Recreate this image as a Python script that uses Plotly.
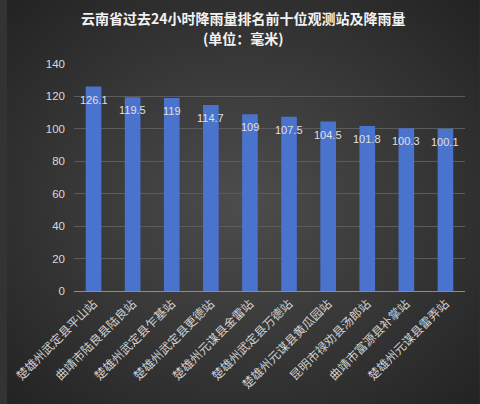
import plotly.graph_objects as go
import urllib.parse

stations = ["楚雄州武定县平山站", "曲靖市陆良县陆良站", "楚雄州武定县乍基站", "楚雄州武定县更德站",
            "楚雄州元谋县金雷站", "楚雄州武定县万德站", "楚雄州元谋县黄瓜园站", "昆明市禄劝县汤郎站",
            "曲靖市富源县补掌站", "楚雄州元谋县雷弄站"]
rainfall = [126.1, 119.5, 119, 114.7, 109, 107.5, 104.5, 101.8, 100.3, 100.1]
label_text = ["126.1", "119.5", "119", "114.7", "109", "107.5", "104.5", "101.8", "100.3", "100.1"]
y_ticks = [0, 20, 40, 60, 80, 100, 120, 140]
title_lines = ["云南省过去24小时降雨量排名前十位观测站及降雨量", "(单位：毫米)"]

W, H = 480, 404
ml, mr, mt, mb = 68, 15, 64, 113
pw, ph = W - ml - mr, H - mt - mb

svg = ('<svg xmlns="http://www.w3.org/2000/svg" width="480" height="404">'
       '<defs><radialGradient id="g" cx="50%" cy="50%" r="70%">'
       '<stop offset="0%" stop-color="#4d4d4d"/><stop offset="100%" stop-color="#232323"/>'
       '</radialGradient></defs><rect width="480" height="404" fill="url(#g)"/></svg>')
bg_uri = "data:image/svg+xml;charset=utf-8," + urllib.parse.quote(svg)

font_family = "Noto Sans CJK SC, Noto Sans, sans-serif"
num_font = "Liberation Sans, Arial, sans-serif"

fig = go.Figure()
fig.add_trace(go.Bar(
    x=stations, y=rainfall,
    marker=dict(color="#4a73cd", line=dict(width=0)),
    width=0.4,
    hoverinfo="skip",
))

for s, v, t in zip(stations, rainfall, label_text):
    fig.add_annotation(x=s, y=v, text=t, showarrow=False, yanchor="top", yshift=-5,
                       font=dict(family=num_font, size=11, color="#e0e0e0"))

for py, line in zip([18, 38], title_lines):
    fig.add_annotation(xref="paper", yref="paper", x=(240 - ml) / pw, y=1 + (mt - py) / ph,
                       xanchor="center", yanchor="middle", text=line, showarrow=False,
                       font=dict(family=font_family, size=14, color="#f2f2f2", weight="bold"))

fig.update_layout(
    width=W, height=H,
    margin=dict(l=ml, r=mr, t=mt, b=mb),
    paper_bgcolor="#333333",
    plot_bgcolor="rgba(0,0,0,0)",
    showlegend=False,
    images=[dict(source=bg_uri, xref="paper", yref="paper",
                 x=-ml / pw, y=1 + mt / ph, sizex=W / pw, sizey=H / ph,
                 xanchor="left", yanchor="top", sizing="stretch", layer="below")],
    xaxis=dict(tickangle=-45, tickfont=dict(family=font_family, size=12, color="#d0d0d0"),
               showgrid=False, showline=True, linecolor="#8c8c8c", linewidth=1,
               ticks="", range=[-0.5, 9.5]),
    yaxis=dict(range=[0, 140], tickvals=y_ticks, showgrid=True, gridcolor="#5c5c5c", gridwidth=1,
               zeroline=False, showline=False, ticks="", ticklabelstandoff=8,
               tickfont=dict(family=num_font, size=11.5, color="#d9d9d9")),
)

fig.write_html("out.html")
